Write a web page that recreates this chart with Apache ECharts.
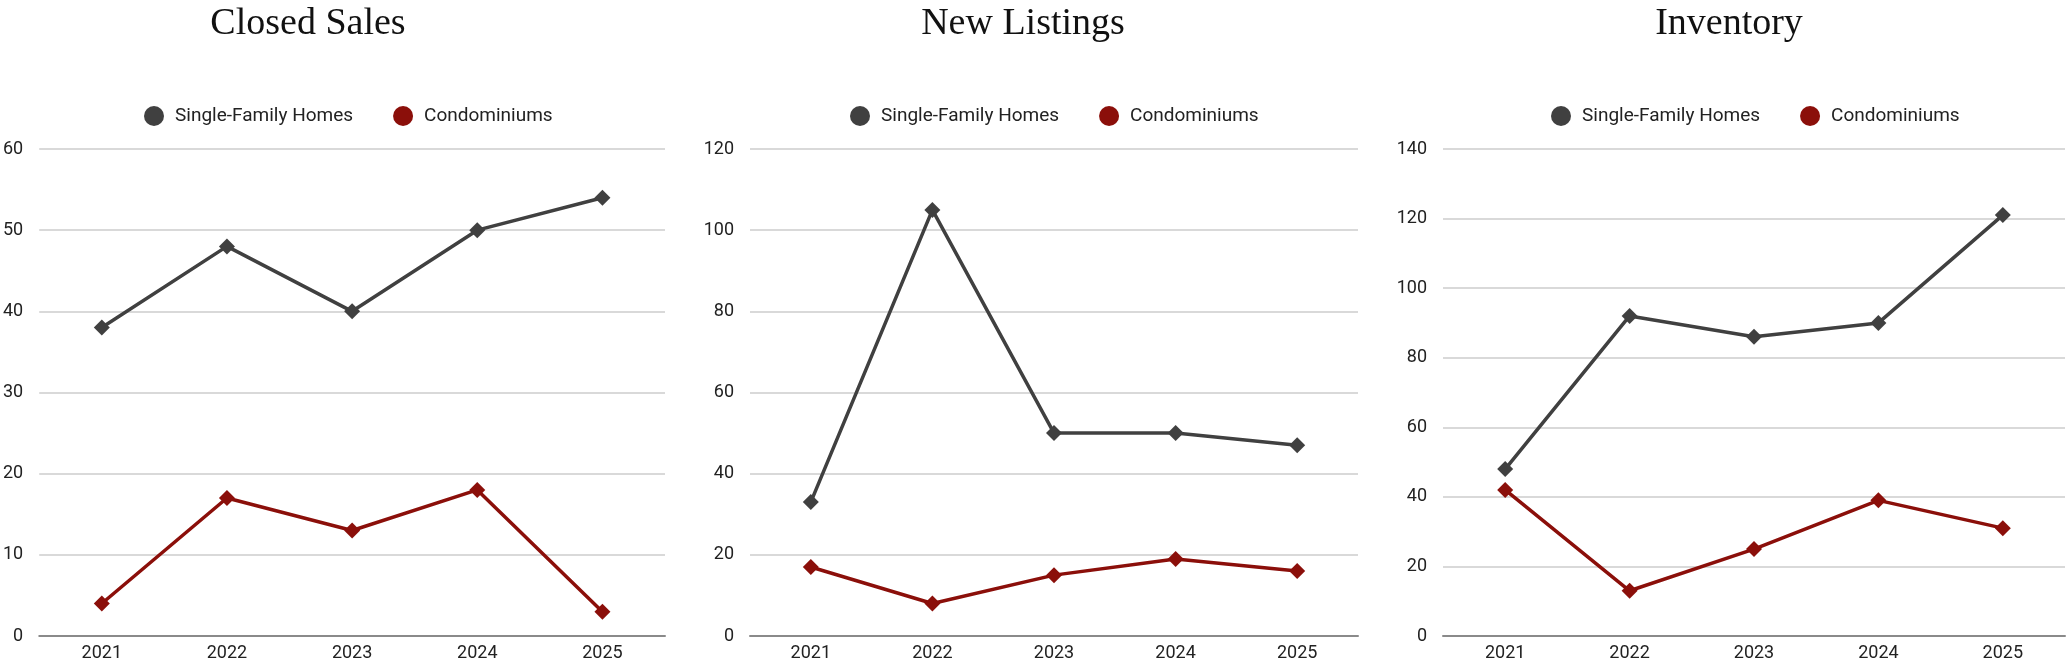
<!DOCTYPE html>
<html>
<head>
<meta charset="utf-8">
<script src="https://cdn.jsdelivr.net/npm/echarts@6/dist/echarts.min.js"></script>
<style>
  html, body { margin: 0; padding: 0; background: #ffffff; }
  #chart { width: 2069px; height: 665px; }
</style>
</head>
<body>
<div id="chart"></div>
<script>
// ---- data ----
const years = ['2021', '2022', '2023', '2024', '2025'];
const seriesNames = ['Single-Family Homes', 'Condominiums'];
const chartTitles = ['Closed Sales', 'New Listings', 'Inventory'];

const closedSalesSFH = [38, 48, 40, 50, 54];
const closedSalesCondo = [4, 17, 13, 18, 3];
const newListingsSFH = [33, 105, 50, 50, 47];
const newListingsCondo = [17, 8, 15, 19, 16];
const inventorySFH = [48, 92, 86, 90, 121];
const inventoryCondo = [42, 13, 25, 39, 31];

const yMax = [60, 120, 140];
const yInterval = [10, 20, 20];

// ---- layout / style ----
const colors = ['#404040', '#8b0f0a'];
const gridLeft = [32, 750, 1443];
const gridRight = [2069 - 665, 2069 - 1358, 2069 - 2065];
const titleX = [308, 1023, 1729];
const legendLeft = [139, 845, 1546];

const data = [
  [closedSalesSFH, closedSalesCondo],
  [newListingsSFH, newListingsCondo],
  [inventorySFH, inventoryCondo]
];

const grids = [], xAxes = [], yAxes = [], legends = [], series = [], graphics = [];
for (let i = 0; i < 3; i++) {
  grids.push({ left: gridLeft[i], right: gridRight[i], top: 149, bottom: 665 - 636, containLabel: false });
  xAxes.push({
    type: 'category', gridIndex: i, data: years, boundaryGap: true,
    axisLine: { show: true, lineStyle: { color: '#8a8a8a', width: 2 } },
    axisTick: { show: false },
    axisLabel: { color: '#222', fontFamily: 'Roboto', fontSize: 18, margin: 8 },
    splitLine: { show: false }
  });
  yAxes.push({
    type: 'value', gridIndex: i, min: 0, max: yMax[i], interval: yInterval[i],
    axisLine: { show: false }, axisTick: { show: false },
    axisLabel: { color: '#222', fontFamily: 'Roboto', fontSize: 18, margin: 16 },
    splitLine: { lineStyle: { color: '#cccccc', width: 1.5 } }
  });
  legends.push({
    left: legendLeft[i], top: 101, orient: 'horizontal',
    icon: 'circle', itemWidth: 20, itemHeight: 20, itemGap: 40,
    data: seriesNames,
    textStyle: { color: '#222', fontFamily: 'Roboto', fontSize: 19, padding: [0, 0, 0, 6] }
  });
  for (let s = 0; s < 2; s++) {
    series.push({
      name: seriesNames[s], type: 'line', xAxisIndex: i, yAxisIndex: i,
      data: data[i][s], symbol: 'diamond', symbolSize: 16,
      itemStyle: { color: colors[s] },
      lineStyle: { color: colors[s], width: 3.5 },
      z: 3 - s
    });
  }
  graphics.push({
    type: 'text', x: titleX[i], y: 24,
    style: { text: chartTitles[i], fill: '#111', font: '38px "Liberation Serif"', textAlign: 'center', textVerticalAlign: 'middle' }
  });
}

const chart = echarts.init(document.getElementById('chart'));
chart.setOption({
  backgroundColor: '#ffffff',
  animation: false,
  grid: grids, xAxis: xAxes, yAxis: yAxes, legend: legends, series: series,
  graphic: graphics
});
</script>
</body>
</html>
